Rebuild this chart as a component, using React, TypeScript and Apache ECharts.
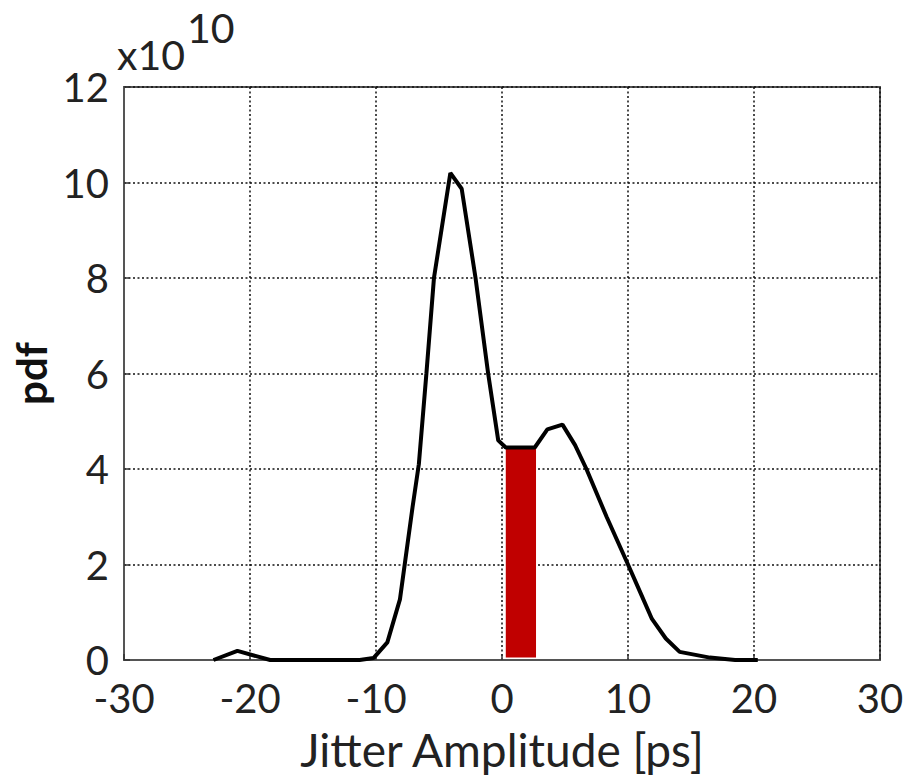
import React, { useEffect, useRef } from "react";
import * as echarts from "echarts";

const jitterPs = [-22.9, -21.0, -18.4, -11.3, -10.2, -9.1, -8.1, -7.1, -6.6, -6.0, -5.4, -4.1, -3.2, -2.1, -1.1, -0.3, 0.3, 2.6, 3.6, 4.8, 5.8, 6.7, 8.3, 10.0, 11.0, 11.9, 13.0, 14.1, 16.5, 18.5, 20.3];
const pdfE10 = [0, 0.19, 0, 0, 0.04, 0.37, 1.27, 3.2, 4.1, 6.0, 8.0, 10.2, 9.87, 8.0, 6.0, 4.6, 4.45, 4.45, 4.83, 4.93, 4.5, 4.0, 3.0, 2.0, 1.4, 0.86, 0.45, 0.17, 0.05, 0, 0];
// highlighted bin: [xStart, xEnd, yBottom, yTop]
const highlightBin = [0.3, 2.7, 0.05, 4.45];
const xTicks = { min: -30, max: 30, interval: 10 };
const yTicks = { min: 0, max: 12, interval: 2 };

const FONT = "Lato";

export default function App() {
  const ref = useRef<HTMLDivElement>(null);
  useEffect(() => {
    if (!ref.current) return;
    const chart = echarts.init(ref.current, null, { renderer: "svg" });
    const gridLine = { show: true, lineStyle: { color: "#111", width: 1.5, type: [2, 2.5] as any } };
    chart.setOption({
      animation: false,
      backgroundColor: "#fff",
      grid: { left: 124, right: 30, top: 87, bottom: 116, show: true, borderColor: "#555", borderWidth: 2, backgroundColor: "transparent" },
      xAxis: {
        type: "value",
        min: xTicks.min,
        max: xTicks.max,
        interval: xTicks.interval,
        name: "Jitter Amplitude [ps]",
        nameLocation: "middle",
        nameGap: 66,
        nameTextStyle: { fontFamily: FONT, fontSize: 46, color: "#222" },
        axisLine: { show: true, onZero: false, lineStyle: { color: "#555", width: 2 } },
        axisTick: { show: true, inside: true, length: 6, lineStyle: { color: "#333", width: 1.5 } },
        axisLabel: { fontFamily: FONT, fontSize: 40, color: "#222", margin: 23, lineHeight: 30 },
        splitLine: gridLine,
      },
      yAxis: {
        type: "value",
        min: yTicks.min,
        max: yTicks.max,
        interval: yTicks.interval,
        name: "pdf",
        nameLocation: "middle",
        nameGap: 62,
        nameTextStyle: { fontFamily: FONT, fontSize: 42, fontWeight: "bold", color: "#111" },
        axisLine: { show: true, onZero: false, lineStyle: { color: "#555", width: 2 } },
        axisTick: { show: true, inside: true, length: 6, lineStyle: { color: "#333", width: 1.5 } },
        axisLabel: { fontFamily: FONT, fontSize: 40, color: "#222", margin: 15, lineHeight: 30 },
        splitLine: gridLine,
      },
      graphic: [
        {
          type: "text",
          left: 117,
          top: 7,
          style: {
            text: "{b|x10}{s|10}",
            rich: {
              b: { fontFamily: FONT, fontSize: 41, fill: "#222", verticalAlign: "bottom", lineHeight: 68 },
              s: { fontFamily: FONT, fontSize: 41, fill: "#222", verticalAlign: "top", lineHeight: 68, padding: [0, 0, 30, 2] },
            },
          },
        },
      ],
      series: [
        {
          type: "custom",
          z: 2,
          data: [highlightBin],
          renderItem: (params: any, api: any) => {
            const p0 = api.coord([api.value(0), api.value(3)]);
            const p1 = api.coord([api.value(1), api.value(2)]);
            return {
              type: "rect",
              shape: { x: p0[0], y: p0[1], width: p1[0] - p0[0], height: p1[1] - p0[1] },
              style: { fill: "#c00000" },
            };
          },
        },
        {
          type: "line",
          z: 3,
          data: jitterPs.map((x, i) => [x, pdfE10[i]]),
          showSymbol: false,
          symbol: "none",
          lineStyle: { color: "#000", width: 4 },
        },
      ],
    });
    return () => chart.dispose();
  }, []);
  return <div ref={ref} style={{ position: "fixed", left: 0, top: 0, width: 910, height: 777 }} />;
}
